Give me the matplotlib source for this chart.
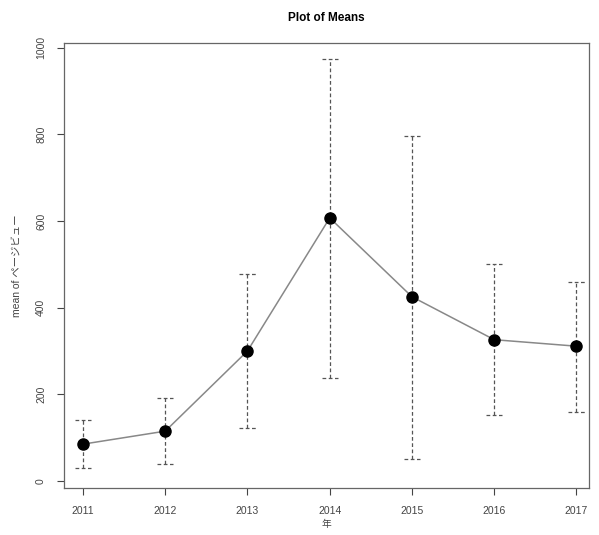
import numpy as np
import matplotlib.pyplot as plt

plt.rcParams['font.family'] = ['Liberation Sans', 'Noto Sans CJK JP', 'DejaVu Sans']

years = [2011, 2012, 2013, 2014, 2015, 2016, 2017]
means = [85, 115, 300, 607, 425, 326, 311]
upper = [141, 192, 478, 974, 797, 501, 460]
lower = [30, 39, 122, 238, 51, 152, 159]

fig = plt.figure(figsize=(5.99, 5.35), dpi=100)
ax = fig.add_axes([0.107, 0.088, 0.876, 0.832])

x = np.array(years)
grey = '#555555'
ax.vlines(x, lower, upper, colors=grey, linestyles=(0, (3, 2)), linewidth=0.9)
cap = 0.1
ax.hlines(upper, x - cap, x + cap, colors=grey, linestyles=(0, (3, 2)), linewidth=0.9)
ax.hlines(lower, x - cap, x + cap, colors=grey, linestyles=(0, (3, 2)), linewidth=0.9)
ax.plot(x, means, color='#888888', linewidth=1.1, zorder=3)
ax.plot(x, means, 'o', color='black', markersize=8, zorder=4)

ax.set_xlim(2010.77, 2017.15)
ax.set_ylim(-16, 1011)
ax.set_xticks(years)
ax.set_yticks([0, 200, 400, 600, 800, 1000])
ax.tick_params(axis='y', labelrotation=90, labelsize=7.5, colors='#444444', length=5, pad=8)
ax.tick_params(axis='x', labelsize=7.5, colors='#444444', length=5, pad=8)
for lab in ax.get_yticklabels():
    lab.set_verticalalignment('center')
for s in ax.spines.values():
    s.set_color('#666666')
    s.set_linewidth(0.9)

ax.set_title('Plot of Means', fontsize=8.5, fontweight='bold', pad=16)
ax.set_xlabel('年', fontsize=7, color='#444444', labelpad=2)
ax.set_ylabel('mean of ページビュー', fontsize=7.5, color='#444444', labelpad=10)

fig.savefig('out.png', dpi=100)
